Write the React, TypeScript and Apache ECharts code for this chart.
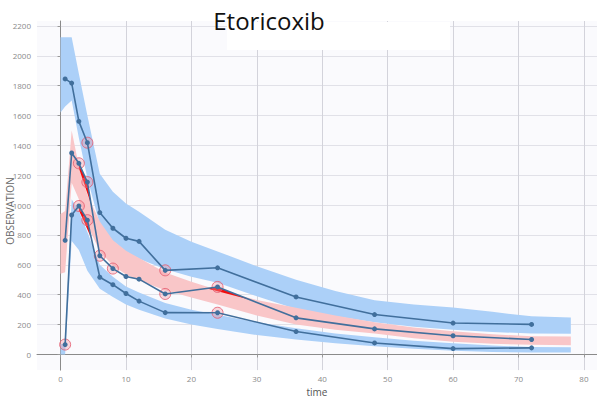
import React, { useEffect, useRef } from "react";
import * as echarts from "echarts";

// Observed percentiles (5th, 50th, 95th) per time bin
const timePoints = [0.7, 1.7, 2.8, 4.1, 6, 8, 10, 12, 16, 24, 36, 48, 60, 72];
const obsP95 = [1845, 1817, 1561, 1418, 950, 845, 778, 757, 563, 580, 385, 267, 210, 201];
const obsP50 = [764, 1349, 1280, 1154, 661, 575, 522, 504, 405, 452, 245, 171, 125, 100];
const obsP05 = [66, 934, 994, 899, 517, 467, 408, 357, 280, 279, 153, 77, 39, 44];

// Bins whose observed percentile is flagged
const flaggedP95 = [3, 8];
const flaggedP50 = [2, 3, 4, 5, 8, 9];
const flaggedP05 = [0, 2, 3, 9];

// Simulated prediction intervals around each percentile
const bandTime = [0, 0.7, 1.7, 2.8, 4.1, 6, 8, 10, 12, 16, 20, 24, 30, 36, 42, 48, 54, 60, 66, 72, 78];
const piP95Low = [1620, 1660, 1700, 1450, 1180, 870, 760, 690, 640, 570, 520, 480, 390, 305, 255, 215, 185, 165, 150, 140, 138];
const piP95High = [2125, 2125, 2125, 1880, 1600, 1210, 1090, 1010, 955, 835, 755, 690, 590, 500, 425, 362, 335, 315, 285, 255, 248];
const piP50Low = [540, 550, 1150, 1040, 870, 690, 595, 535, 495, 430, 382, 335, 260, 200, 165, 140, 108, 85, 72, 64, 62];
const piP50High = [940, 960, 1500, 1260, 1070, 890, 765, 695, 645, 548, 487, 432, 365, 312, 260, 215, 180, 155, 135, 122, 120];
const piP05Low = [0, 0, 760, 700, 560, 440, 385, 335, 300, 240, 200, 170, 130, 100, 75, 55, 38, 25, 16, 13, 13];
const piP05High = [70, 70, 1040, 960, 820, 600, 520, 455, 415, 345, 300, 265, 215, 175, 140, 115, 92, 75, 60, 50, 48];

// Regions where an observed percentile leaves its prediction interval
const outsideP50Early = [[2.8, 1280], [4.1, 1154], [4.7, 1000], [2.8, 1248]];
const outsideP05Early = [[2.8, 994], [4.1, 899], [4.7, 778], [2.8, 965]];
const outsideP50Late = [[22.4, 442], [24, 452], [29, 366]];

const xTicks = [0, 10, 20, 30, 40, 50, 60, 70, 80];
const yTicks = [0, 200, 400, 600, 800, 1000, 1200, 1400, 1600, 1800, 2000, 2200];

const BLUE_BAND = "#acd0f8";
const PINK_BAND = "#f9c6c8";
const LINE = "#416f9c";
const FONT = "Open Sans";

function bandPoints(lo: number[], hi: number[]) {
  const lower = bandTime.map((t, i) => [t, lo[i]]);
  const upper = bandTime.map((t, i) => [t, hi[i]]).reverse();
  return lower.concat(upper);
}

function polygonSeries(pts: number[][], color: string, z: number) {
  return {
    type: "custom",
    silent: true,
    z,
    data: [[0, 0]],
    renderItem: (_p: any, api: any) => ({
      type: "polygon",
      shape: { points: pts.map((p) => api.coord(p)) },
      style: { fill: color },
    }),
  };
}

function lineSeries(values: number[]) {
  return {
    type: "line",
    z: 5,
    data: timePoints.map((t, i) => [t, values[i]]),
    symbol: "circle",
    symbolSize: 5,
    showSymbol: true,
    lineStyle: { color: LINE, width: 1.6 },
    itemStyle: { color: LINE },
    silent: true,
  };
}

function flagSeries(values: number[], idx: number[]) {
  return {
    type: "scatter",
    z: 4,
    symbol: "circle",
    symbolSize: 11,
    data: idx.map((i) => [timePoints[i], values[i]]),
    itemStyle: {
      color: "rgba(245,150,160,0.45)",
      borderColor: "#e3576b",
      borderWidth: 1,
    },
    silent: true,
  };
}

export default function App() {
  const ref = useRef<HTMLDivElement>(null);

  useEffect(() => {
    if (!ref.current) return;
    const chart = echarts.init(ref.current, null, { renderer: "svg" });
    chart.setOption({
      animation: false,
      grid: {
        left: 37,
        right: 0,
        top: 21,
        bottom: 25,
        show: true,
        backgroundColor: "#fafafd",
        borderWidth: 0,
      },
      xAxis: {
        type: "value",
        min: -3.6,
        max: 82,
        name: "time",
        nameLocation: "middle",
        nameGap: 13,
        nameTextStyle: { fontSize: 10, color: "#555", fontFamily: FONT },
        axisLine: { show: true, lineStyle: { color: "#8a8a8a", width: 1 } },
        axisTick: { show: true, customValues: xTicks, length: 3, lineStyle: { color: "#999" } },
        axisLabel: {
          customValues: xTicks,
          fontSize: 8,
          color: "#8a8a8a",
          margin: 4,
          fontFamily: FONT,
          formatter: (v: number) => String(v),
        },
        splitLine: { show: true, lineStyle: { color: "#d3d3db", width: 1 } },
      },
      yAxis: {
        type: "value",
        min: -105,
        max: 2233,
        axisLine: { show: true, lineStyle: { color: "#8a8a8a", width: 1 } },
        axisTick: { show: true, customValues: yTicks, length: 3, lineStyle: { color: "#999" } },
        axisLabel: {
          customValues: yTicks,
          fontSize: 8,
          color: "#8a8a8a",
          margin: 6,
          fontFamily: FONT,
          formatter: (v: number) => String(v),
        },
        splitLine: { show: true, lineStyle: { color: "#e1e1e8", width: 1 } },
      },
      graphic: [
        {
          type: "rect",
          z: 100,
          shape: { x: 227, y: 22, width: 223, height: 28 },
          style: { fill: "#ffffff" },
          silent: true,
        },
        {
          type: "text",
          z: 101,
          x: 269,
          y: 20,
          style: {
            text: "Etoricoxib",
            fontSize: 24,
            fontFamily: FONT,
            fill: "#111",
            align: "center",
            verticalAlign: "middle",
          },
        },
        {
          type: "text",
          x: 10,
          y: 211,
          rotation: Math.PI / 2,
          style: {
            text: "OBSERVATION",
            fontSize: 10,
            fontFamily: FONT,
            fill: "#666",
            align: "center",
            verticalAlign: "middle",
          },
        },
      ],
      series: [
        polygonSeries(bandPoints(piP95Low, piP95High), BLUE_BAND, 1),
        polygonSeries(bandPoints(piP50Low, piP50High), PINK_BAND, 1),
        polygonSeries(bandPoints(piP05Low, piP05High), BLUE_BAND, 1),
        polygonSeries(outsideP50Early, "#f20d0d", 2),
        polygonSeries(outsideP05Early, "#f20d0d", 2),
        polygonSeries(outsideP50Late, "#f20d0d", 2),
        flagSeries(obsP95, flaggedP95),
        flagSeries(obsP50, flaggedP50),
        flagSeries(obsP05, flaggedP05),
        lineSeries(obsP95),
        lineSeries(obsP50),
        lineSeries(obsP05),
      ],
    });
    return () => chart.dispose();
  }, []);

  return (
    <div
      ref={ref}
      style={{ position: "absolute", left: 0, top: 0, width: 597, height: 402 }}
    />
  );
}
